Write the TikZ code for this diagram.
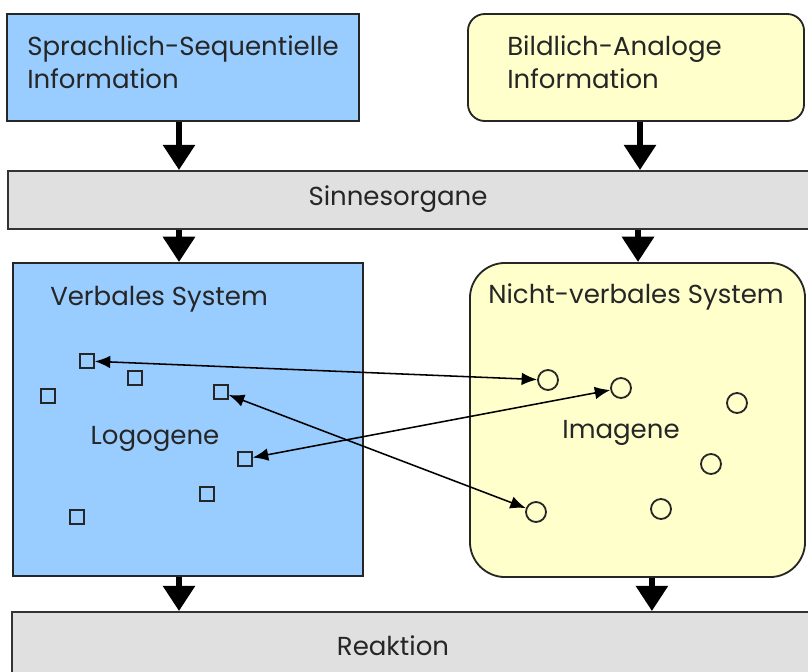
\documentclass[tikz,border=0pt]{standalone}
\usepackage{fontspec}
\setmainfont{Poppins}
\usetikzlibrary{arrows.meta, positioning}
\definecolor{verbalblue}{HTML}{99CCFF}
\definecolor{imageyellow}{HTML}{FFFFCC}
\definecolor{sensegray}{HTML}{E0E0E0}
\tikzstyle{verbalbox} = [rectangle, draw=black!85, line width=1.3pt, fill=verbalblue]
\tikzstyle{imagebox} = [rectangle, draw=black!85, line width=1.3pt, fill=imageyellow]
\tikzstyle{bar} = [rectangle, draw=black!80, line width=1.3pt, fill=sensegray]
\tikzstyle{bigarrow} = [line width=4.5pt, -{Triangle[width=22pt,length=18pt]}]
\tikzstyle{linkarrow} = [line width=1.1pt, {Latex[length=11pt,width=9pt]}-{Latex[length=11pt,width=9pt]}]
\tikzstyle{logogen} = [rectangle, draw=black!85, line width=1.4pt, minimum size=0.34cm, inner sep=0pt]
\tikzstyle{imagen} = [circle, draw=black!85, line width=1.3pt, minimum size=0.5cm, inner sep=0pt]
\tikzstyle{label} = [font=\fontsize{18.5}{23.4}\selectfont, text=black!85, inner sep=0pt]

\begin{document}
\begin{tikzpicture}[x=0.025cm, y=-0.025cm]
\clip (0,0) rectangle (808,671);

%Information
\node[verbalbox, minimum width=8.8cm, minimum height=2.675cm] (sprach) at (183,67.5) {};
\node[imagebox, rounded corners=12pt, minimum width=8.4cm, minimum height=2.675cm] (bild) at (636,67.5) {};
\node[label, anchor=base west] (sprachtext) at (27,55) {Sprachlich-Sequentielle};
\node[label, anchor=base west] (sprachtext2) at (27,88) {Information};
\node[label, anchor=base west] (bildtext) at (507,55) {Bildlich-Analoge};
\node[label, anchor=base west] (bildtext2) at (507,88) {Information};

%Sinnesorgane
\node[bar, minimum width=20.35cm, minimum height=1.45cm] (sinne) at (415,200) {};
\node[label] (sinnetext) at (398,199) {Sinnesorgane};

%Systeme
\node[verbalbox, minimum width=8.75cm, minimum height=7.825cm] (verbal) at (188,419.5) {};
\node[imagebox, rounded corners=25pt, minimum width=8.375cm, minimum height=7.85cm] (nonverbal) at (637.5,420) {};
\node[label, anchor=base west] (verbaltitle) at (50,305) {Verbales System};
\node[label, anchor=base west] (nonverbaltitle) at (488,303) {Nicht-verbales System};
\node[label] (logotext) at (155,439) {Logogene};
\node[label] (imagetext) at (621,433) {Imagene};

%Reaktion
\node[bar, minimum width=20.4cm, minimum height=1.9cm] (reakt) at (420,650) {};
\node[label] (reakttext) at (393,646) {Reaktion};

%Logogene und Imagene
\foreach \x/\y [count=\i] in {87/361, 135/378, 48/396, 221/392, 245/459, 207/494, 77/517}
	\node[logogen] (lg\i) at (\x,\y) {};
\foreach \x/\y [count=\i] in {548/380, 621/388, 737/403, 711/464, 661/509, 536/512}
	\node[imagen] (im\i) at (\x,\y) {};

\draw[linkarrow] (lg1) -- (im1);
\draw[linkarrow] (lg4) -- (im6);
\draw[linkarrow] (lg5) -- (im2);

%Pfeile
\draw[bigarrow] ([xshift=-0.1cm]sprach.south) -- ([xshift=-0.1cm]sprach.south |- sinne.north);
\draw[bigarrow] ([xshift=0.1cm]bild.south) -- ([xshift=0.1cm]bild.south |- sinne.north);
\draw[bigarrow] ([xshift=-0.1cm]sprach.south |- sinne.south) -- ([xshift=-0.1cm]sprach.south |- verbal.north);
\draw[bigarrow] ([xshift=0.05cm]bild.south |- sinne.south) -- ([xshift=0.05cm]bild.south |- nonverbal.north);
\draw[bigarrow] ([xshift=-0.1cm]sprach.south |- verbal.south) -- ([xshift=-0.1cm]sprach.south |- reakt.north);
\draw[bigarrow] ([xshift=0.36cm]nonverbal.south) -- ([xshift=0.36cm]nonverbal.south |- reakt.north);

\end{tikzpicture}
\end{document}
